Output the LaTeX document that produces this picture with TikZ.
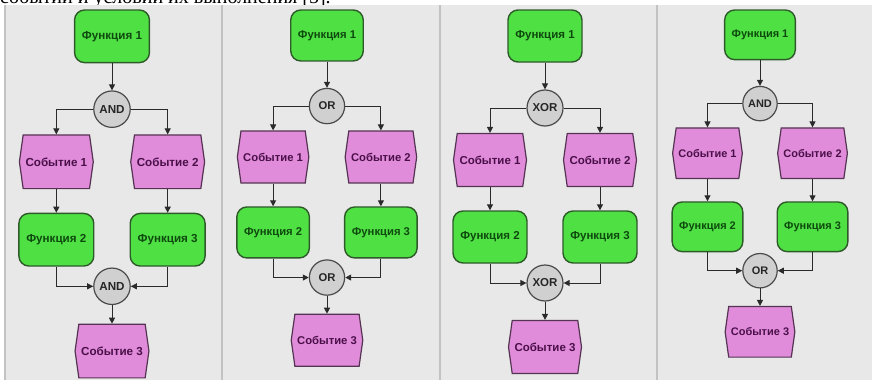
\documentclass[tikz,border=0pt]{standalone}
\usepackage{fontspec}
\setmainfont{Liberation Serif}
\setsansfont{Liberation Sans}
\usetikzlibrary{shapes.symbols,arrows.meta}

\definecolor{panelbg}{HTML}{E8E8E8}
\definecolor{divline}{HTML}{C2C2C2}
\definecolor{fnfill}{HTML}{4FE044}
\definecolor{fnline}{HTML}{2E5A2A}
\definecolor{fntext}{HTML}{0E4A0E}
\definecolor{evfill}{HTML}{E08CDA}
\definecolor{evline}{HTML}{553352}
\definecolor{evtext}{HTML}{4A0F48}
\definecolor{gtfill}{HTML}{D0D0D0}
\definecolor{gtline}{HTML}{4A4A4A}
\definecolor{wire}{HTML}{2A2A2A}

\tikzset{
  func/.style={draw=fnline, fill=fnfill, rounded corners=10pt, line width=1.4pt,
    minimum width=74pt, minimum height=52pt, inner sep=0pt, text=fntext,
    font=\sffamily\bfseries\fontsize{11.5}{13}\selectfont},
  event/.style={signal, signal to=east and west, signal pointer angle=164,
    draw=evline, fill=evfill, line width=1.2pt,
    minimum width=73pt, minimum height=53pt, inner sep=0pt, text=evtext,
    font=\sffamily\bfseries\fontsize{11.5}{13}\selectfont},
  gate/.style={circle, draw=gtline, fill=gtfill, line width=1.2pt,
    minimum size=36pt, inner sep=0pt, text=black!85,
    font=\sffamily\bfseries\fontsize{11.5}{13}\selectfont},
  flow/.style={draw=wire, line width=1pt, -{Triangle[length=6pt,width=6pt]}}
}

% one panel: #1 centre x, #2 scale, #3 split gate, #4 join gate, #5 name prefix
\newcommand{\epcpanel}[5]{
  \begin{scope}[shift={(#1,10)}, scale=#2, transform shape]
    \node[func] (#5fa) at (0,26) {Функция 1};
    \node[gate] (#5ga) at (0,98) {#3};
    \node[event] (#5ea) at (-55,150) {Событие 1};
    \node[event] (#5eb) at (55,150) {Событие 2};
    \node[func] (#5fb) at (-55,227) {Функция 2};
    \node[func] (#5fc) at (55,227) {Функция 3};
    \node[gate] (#5gb) at (0,273) {#4};
    \node[event] (#5ec) at (0,337) {Событие 3};

    \draw[flow] (#5fa.south) -- (#5ga.north);
    \draw[flow] (#5ga.west) -| (#5ea.north);
    \draw[flow] (#5ga.east) -| (#5eb.north);
    \draw[flow] (#5ea.south) -- (#5fb.north);
    \draw[flow] (#5eb.south) -- (#5fc.north);
    \draw[flow] (#5fb.south) |- (#5gb.west);
    \draw[flow] (#5fc.south) |- (#5gb.east);
    \draw[flow] (#5gb.south) -- (#5ec.north);
  \end{scope}
}

\begin{document}
\begin{tikzpicture}[x=1pt,y=-1pt]
  \clip (0,0) rectangle (872,380);
  \fill[white] (0,0) rectangle (872,380);

  % line of the text above, cut by the panels
  \node[anchor=base west, inner sep=0pt, font=\fontsize{20}{24}\selectfont] (caption)
    at (0,4) {событий и условий их выполнения [5].};

  % grey panels and their separators
  \fill[panelbg] (5,5) rectangle (872,380);
  \foreach \sx in {5,222,440,657}
    \draw[divline, line width=1.2pt] (\sx,5) -- (\sx,380);

  \epcpanel{112}{1.012}{AND}{AND}{p}
  \epcpanel{327}{0.98}{OR}{OR}{q}
  \epcpanel{545}{1}{XOR}{XOR}{r}
  \epcpanel{760}{0.955}{AND}{OR}{s}
\end{tikzpicture}
\end{document}
